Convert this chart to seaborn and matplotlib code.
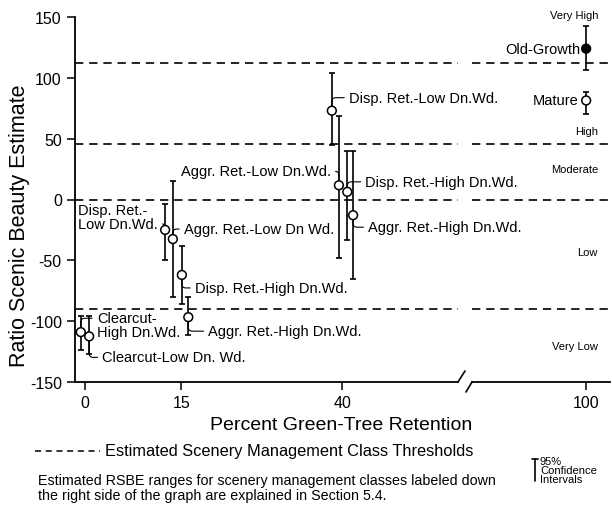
import numpy as np
import pandas as pd
import matplotlib.pyplot as plt
import matplotlib.transforms as mtransforms
from matplotlib.lines import Line2D
import seaborn as sns

# values (x jittered around 0, 15, 40 as drawn)
labels = ["Clearcut-\nHigh Dn.Wd.", "Clearcut-Low Dn. Wd.",
          "Disp. Ret.-\nLow Dn.Wd.", "Aggr. Ret.-Low Dn Wd.",
          "Disp. Ret.-High Dn.Wd.", "Aggr. Ret.-High Dn.Wd.",
          "Disp. Ret.-Low Dn.Wd.", "Aggr. Ret.-Low Dn.Wd.",
          "Disp. Ret.-High Dn.Wd.", "Aggr. Ret.-High Dn.Wd.",
          "Mature", "Old-Growth"]
pct = [-0.6, 0.7, 12.5, 13.7, 15.1, 16.1, 38.4, 39.5, 40.8, 41.7, 100, 100]
rsbe = [-109, -112.5, -25, -32.5, -62, -96.7, 73, 11.7, 6.3, -12.9, 81.4, 124]
ci_low = [-124, -127, -50, -80, -86, -111, 44.5, -48, -33, -65.6, 70.5, 106.5]
ci_high = [-95.6, -96, -3.3, 15, -38, -80.5, 104, 68.6, 40, 39.6, 88, 143]
marker_kind = ["open"] * 11 + ["filled"]

thresholds = [112, 46, 0, -90]
class_names = ["Very High", "High", "Moderate", "Low", "Very Low"]
class_y = [152, 56, 25, -43, -120]

df = pd.DataFrame({"label": labels, "pct": pct, "rsbe": rsbe,
                   "lo": ci_low, "hi": ci_high, "kind": marker_kind})

sns.set_style("ticks")
plt.rcParams["font.family"] = ["Liberation Sans", "DejaVu Sans"]
plt.rcParams["axes.unicode_minus"] = False
plt.rcParams["text.color"] = "black"
plt.rcParams["axes.labelcolor"] = "black"

W, H = 612, 510
fig = plt.figure(figsize=(W / 100, H / 100), dpi=100)
ax = fig.add_axes([75 / W, 1 - 383 / H, (458 - 75) / W, 365 / H])
ax2 = fig.add_axes([472 / W, 1 - 383 / H, (610 - 472) / W, 365 / H], sharey=ax)
ax2.set_facecolor("none")

ax.set_xlim(-1.5, 58.0)
ax2.set_xlim(82.3, 103.7)
ax.set_ylim(-150, 150)

for a in (ax, ax2):
    for t in thresholds:
        a.axhline(t, color="black", lw=1.2, ls=(0, (5, 3.5)), zorder=1)
    sub = df[(df.pct >= a.get_xlim()[0]) & (df.pct <= a.get_xlim()[1])]
    a.errorbar(sub.pct, sub.rsbe, yerr=[sub.rsbe - sub.lo, sub.hi - sub.rsbe],
               fmt="none", ecolor="black", elinewidth=1.2, capsize=2.2,
               capthick=1.2, zorder=2)
    sns.scatterplot(data=sub, x="pct", y="rsbe", hue="kind",
                    palette={"open": "white", "filled": "black"},
                    edgecolor="black", linewidth=1.1, s=40, legend=False,
                    zorder=3, ax=a)
    a.set_xlabel("")
    a.set_ylabel("")
    a.tick_params(axis="both", length=6, width=1.1, labelsize=11.5,
                  color="black", labelcolor="black")

sns.despine(ax=ax)
sns.despine(ax=ax2, left=True)
ax2.tick_params(axis="y", left=False, labelleft=False)
for sp in ("left", "bottom"):
    ax.spines[sp].set_linewidth(1.3)
    ax.spines[sp].set_color("black")
ax2.spines["bottom"].set_linewidth(1.3)
ax2.spines["bottom"].set_color("black")

ax.set_xticks([0, 15, 40])
ax2.set_xticks([100])
ax.set_yticks(np.arange(-150, 151, 50))

ax.set_ylabel("Ratio Scenic Beauty Estimate", fontsize=15.5)
ax.yaxis.set_label_coords(-0.118, 0.43)
fig.text(341 / W, 1 - 425 / H, "Percent Green-Tree Retention",
         fontsize=14, ha="center", va="center")

# point labels with leader lines (offsets in pixels, relpos = where the leader leaves the text)
offsets = [(16, 7, "left", (0, 0.75)), (13, -21, "left", (0, 0.5)),
           (-87, 13, "left", (1, 0.25)), (11, 10, "left", (0, 0.5)),
           (13, -13, "left", (0, 0.5)), (20, -14, "left", (0, 0.5)),
           (17, 13, "left", (0, 0.5)), (-8, 14, "right", (1, 0.5)),
           (18, 10, "left", (0, 0.5)), (15, -12, "left", (0, 0.5)),
           (-8, 0, "right", None), (-6, 0, "right", None)]
for i, row in df.iterrows():
    dx, dy, ha, rp = offsets[i]
    a = ax if row.pct < 60 else ax2
    arrow = None
    if rp is not None:
        arrow = dict(arrowstyle="-", lw=0.8, color="black", shrinkA=1,
                     shrinkB=3.3, relpos=rp,
                     connectionstyle="angle,angleA=0,angleB=90,rad=4")
    a.annotate(row.label, xy=(row.pct, row.rsbe), xytext=(dx, dy),
               textcoords="offset pixels", ha=ha, va="center",
               fontsize=10.5, linespacing=0.95, arrowprops=arrow, zorder=4)

# class labels down the right side
tr = mtransforms.blended_transform_factory(fig.transFigure, ax2.transData)
for name, y in zip(class_names, class_y):
    ax2.text(598 / W, y, name, fontsize=8, ha="right", va="center",
             transform=tr, clip_on=False)

# axis break marks
for x0, x1, y0, y1 in [(458, 465, 383, 372), (466, 472, 393, 383)]:
    fig.add_artist(Line2D([x0 / W, x1 / W], [1 - y0 / H, 1 - y1 / H],
                          color="black", lw=1.2))

# bottom notes
fig.add_artist(Line2D([35 / W, 100 / W], [1 - 452 / H] * 2, color="black",
                      lw=1.1, ls=(0, (4, 3))))
fig.text(105 / W, 1 - 452 / H, "Estimated Scenery Management Class Thresholds",
         fontsize=11.8, ha="left", va="center")
fig.text(38 / W, 1 - 474 / H,
         "Estimated RSBE ranges for scenery management classes labeled down\n"
         "the right side of the graph are explained in Section 5.4.",
         fontsize=10.3, ha="left", va="top", linespacing=1.1)
fig.add_artist(Line2D([535 / W] * 2, [1 - 460 / H, 1 - 482 / H],
                      color="black", lw=1.2))
fig.add_artist(Line2D([532 / W, 538 / W], [1 - 460 / H] * 2, color="black", lw=1.2))
fig.text(540 / W, 1 - 457 / H, "95%\nConfidence\nIntervals", fontsize=8,
         ha="left", va="top", linespacing=0.9)

fig.savefig("out.png", dpi=100)
